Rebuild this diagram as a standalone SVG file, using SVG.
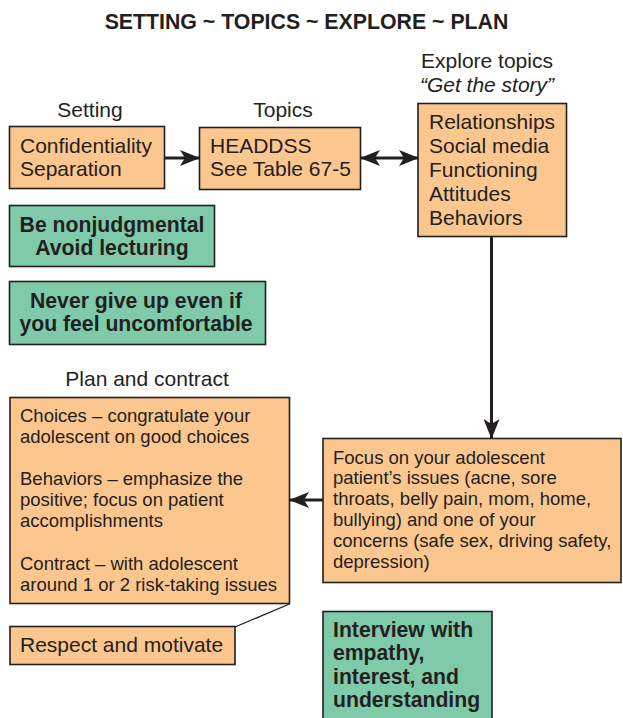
<svg xmlns="http://www.w3.org/2000/svg" width="623" height="718" viewBox="0 0 623 718">
<style>
.t{font-family:"Liberation Sans",Arial,sans-serif;fill:#231f20}
.lab{font-size:21px}
.box{fill:#fcc68f;stroke:#231f20;stroke-width:1.6}
.gbox{fill:#7ecaa9;stroke:#231f20;stroke-width:1.6}
.bt{font-size:21px}
.st{font-size:18.5px}
.gt{font-size:21.2px;font-weight:bold}
.con{stroke:#231f20;stroke-width:3;fill:none}
</style>
<defs>
<marker id="ah" markerUnits="userSpaceOnUse" viewBox="0 0 20 16" refX="19" refY="8" markerWidth="20" markerHeight="16" orient="auto-start-reverse">
<path d="M0,0 L20,8 L0,16 L5,8 Z" fill="#231f20"/>
</marker>
</defs>
<rect width="623" height="718" fill="#ffffff"/>
<text class="t" x="306.5" y="29" text-anchor="middle" font-size="21.3" font-weight="bold">SETTING ~ TOPICS ~ EXPLORE ~ PLAN</text>

<g id="setting">
<text class="t lab" x="90" y="117" text-anchor="middle">Setting</text>
<rect class="box" x="9.5" y="126.5" width="155" height="62"/>
<text class="t bt" x="20" y="153">Confidentiality</text>
<text class="t bt" x="20" y="176">Separation</text>
</g>

<g id="topics">
<text class="t lab" x="283" y="117" text-anchor="middle">Topics</text>
<rect class="box" x="199.5" y="127.5" width="161" height="62"/>
<text class="t bt" x="210" y="153">HEADDSS</text>
<text class="t bt" x="210" y="176">See Table 67-5</text>
</g>

<g id="explore">
<text class="t lab" x="487" y="68" text-anchor="middle">Explore topics</text>
<text class="t lab" x="487" y="92" text-anchor="middle" font-style="italic">“Get the story”</text>
<rect class="box" x="418" y="103.5" width="148.5" height="133"/>
<text class="t bt" x="429" y="129">Relationships</text>
<text class="t bt" x="429" y="153">Social media</text>
<text class="t bt" x="429" y="177">Functioning</text>
<text class="t bt" x="429" y="201">Attitudes</text>
<text class="t bt" x="429" y="225">Behaviors</text>
</g>

<g id="nonjudgmental">
<rect class="gbox" x="9.5" y="205.5" width="205" height="61"/>
<text class="t gt" x="112" y="232" text-anchor="middle">Be nonjudgmental</text>
<text class="t gt" x="112" y="255" text-anchor="middle">Avoid lecturing</text>
</g>

<g id="nevergiveup">
<rect class="gbox" x="9.5" y="281.5" width="256" height="63"/>
<text class="t gt" x="136" y="308" text-anchor="middle">Never give up even if</text>
<text class="t gt" x="136" y="331" text-anchor="middle">you feel uncomfortable</text>
</g>

<g id="plan">
<text class="t lab" x="147" y="386" text-anchor="middle">Plan and contract</text>
<rect class="box" x="10" y="397.5" width="279.5" height="206"/>
<text class="t st" x="20" y="422">Choices – congratulate your</text>
<text class="t st" x="20" y="442.5">adolescent on good choices</text>
<text class="t st" x="20" y="485">Behaviors – emphasize the</text>
<text class="t st" x="20" y="506">positive; focus on patient</text>
<text class="t st" x="20" y="527">accomplishments</text>
<text class="t st" x="20" y="570">Contract – with adolescent</text>
<text class="t st" x="20" y="591">around 1 or 2 risk-taking issues</text>
</g>

<g id="respect">
<rect class="box" x="10" y="626.5" width="225" height="38"/>
<text class="t bt" x="20" y="652">Respect and motivate</text>
</g>

<g id="focus">
<rect class="box" x="323" y="438.5" width="298" height="144"/>
<text class="t st" x="333" y="463.5">Focus on your adolescent</text>
<text class="t st" x="333" y="484">patient’s issues (acne, sore</text>
<text class="t st" x="333" y="505">throats, belly pain, mom, home,</text>
<text class="t st" x="333" y="526">bullying) and one of your</text>
<text class="t st" x="333" y="547">concerns (safe sex, driving safety,</text>
<text class="t st" x="333" y="568">depression)</text>
</g>

<g id="interview">
<rect class="gbox" x="323" y="611.5" width="169" height="110"/>
<text class="t gt" x="333" y="637">Interview with</text>
<text class="t gt" x="333" y="660">empathy,</text>
<text class="t gt" x="333" y="684">interest, and</text>
<text class="t gt" x="333" y="707">understanding</text>
</g>

<g id="connectors">
<line class="con" x1="165" y1="158" x2="199" y2="158" marker-end="url(#ah)"/>
<line class="con" x1="361" y1="158" x2="418" y2="158" marker-start="url(#ah)" marker-end="url(#ah)"/>
<line class="con" x1="491.5" y1="237" x2="491.5" y2="438" marker-end="url(#ah)"/>
<line class="con" x1="323" y1="500" x2="290" y2="500" marker-end="url(#ah)"/>
<line x1="289.5" y1="604" x2="235" y2="627" stroke="#231f20" stroke-width="1.3"/>
</g>
</svg>
